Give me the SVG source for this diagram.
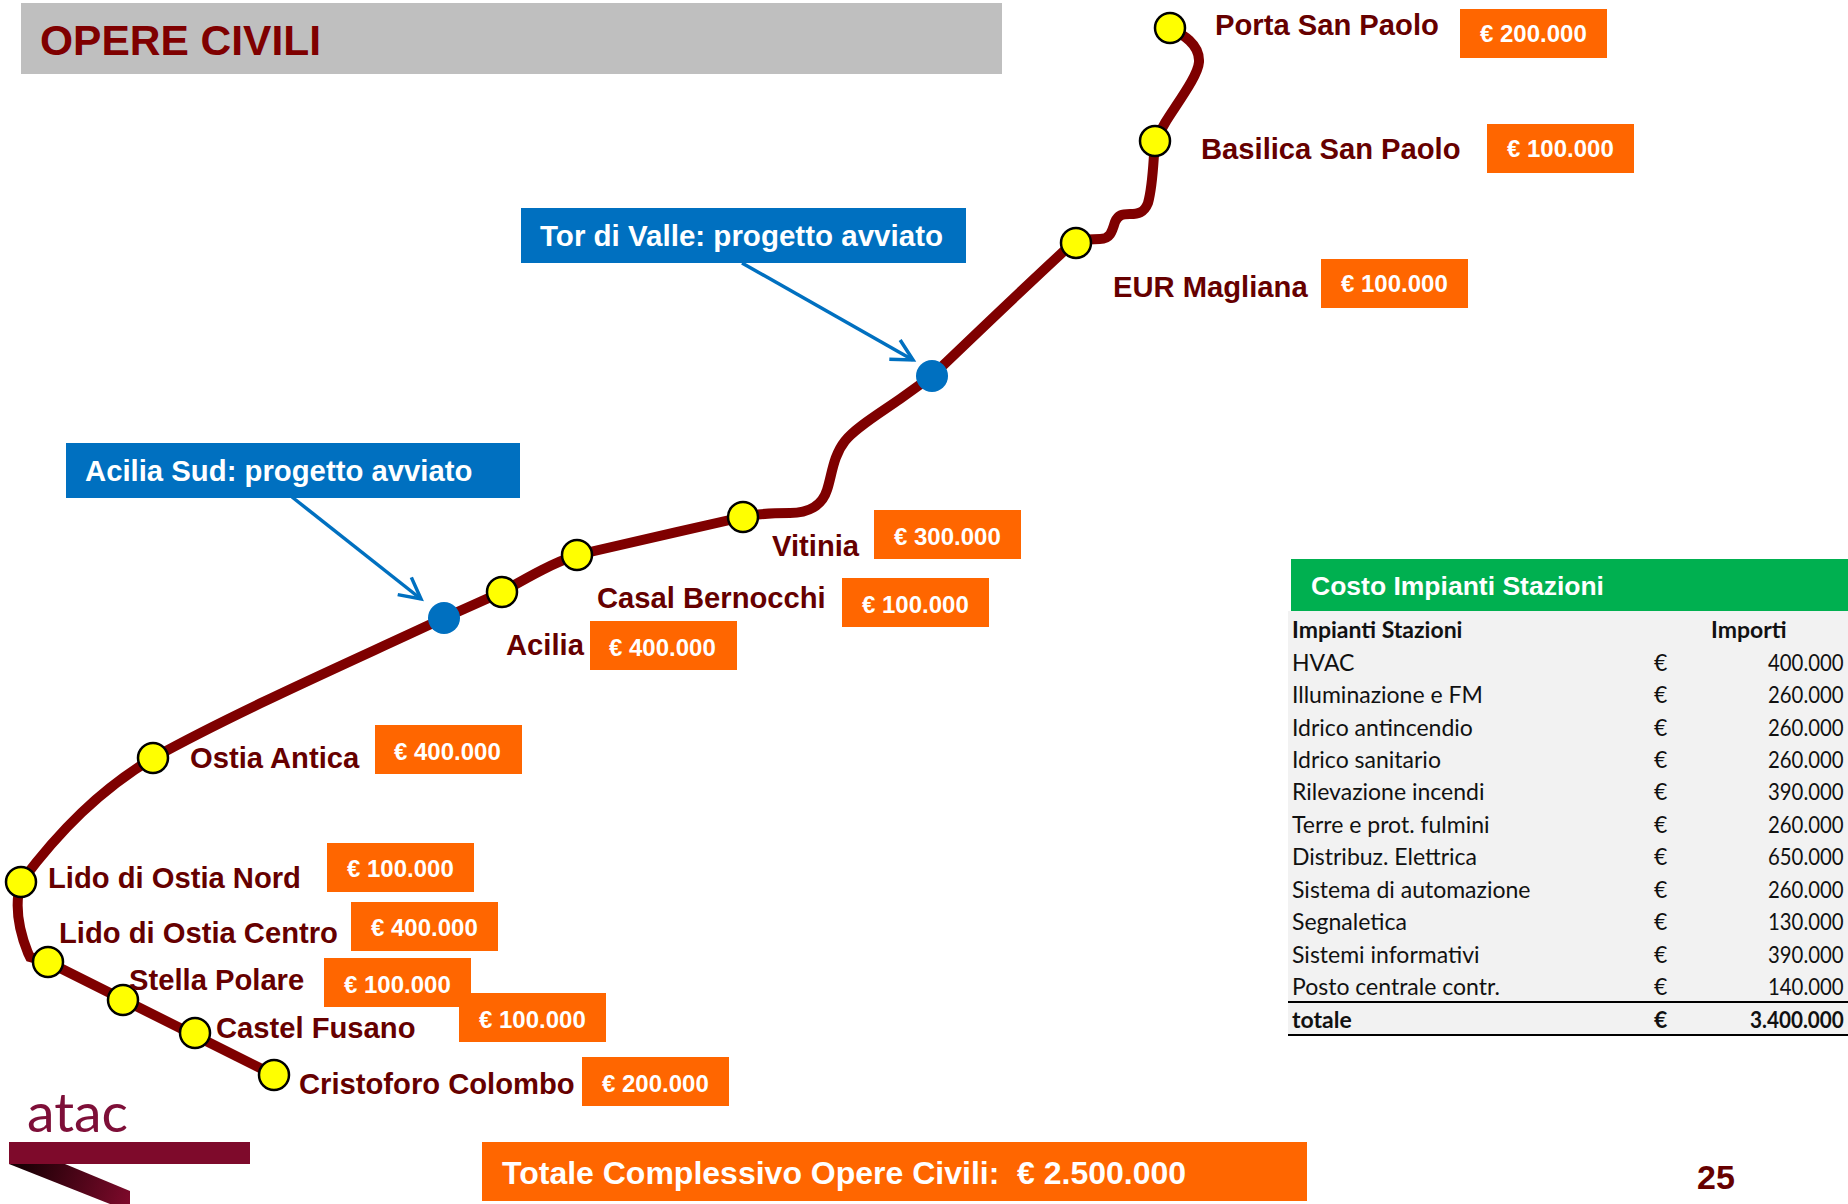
<svg xmlns="http://www.w3.org/2000/svg" width="1848" height="1204" viewBox="0 0 1848 1204">
<style>
text{font-family:"Liberation Sans",Arial,sans-serif;font-weight:bold}
.st{fill:#ffff00;stroke:#000;stroke-width:2.5}
.bl{fill:#0070c0}
.lb{font-size:29.2px;fill:#660000}
.or{fill:#ff6600}
.am{font-size:24px;fill:#fff}
.hd{font-size:29.3px;fill:#fff}
.t{font-family:Lato,"Open Sans",sans-serif;font-size:23px;font-weight:normal;fill:#111}
.tb{font-family:Lato,"Open Sans",sans-serif;font-size:23px;font-weight:bold;fill:#111}
</style>
<defs>
<marker id="arr" markerUnits="userSpaceOnUse" markerWidth="30" markerHeight="30" refX="25" refY="15" orient="auto" overflow="visible">
<path d="M4,4 L25,15 L4,26" fill="none" stroke="#0070c0" stroke-width="3.5"/>
</marker>
<linearGradient id="rib" x1="9" y1="1164" x2="130" y2="1204" gradientUnits="userSpaceOnUse">
<stop offset="0.1" stop-color="#1a0005"/><stop offset="1" stop-color="#7e0a2b"/>
</linearGradient>
</defs>

<g id="title">
<rect x="21" y="3" width="981" height="71" fill="#bfbfbf"/>
<text x="40" y="55" font-size="42.5" fill="#7f0000">OPERE CIVILI</text>
</g>

<g id="connectors">
<path d="M1170,28 C1182,34 1200,44 1199,62 C1198,76 1178,102 1165,123 L1155,141 C1153,165 1153,185 1148,203 C1144,213 1138,214 1130,214 C1122,214 1118,215 1115,222 C1112,232 1110,239 1100,239 L1076,240 C1030,282 980,330 932,376 L900,399 C880,413 855,428 845,441 C833,456 832,475 827,490 C822,506 808,513 790,513 C775,513 760,513 743,517 C690,529 620,545 577,555 C550,564 525,579 502,592 L444,618 C350,662 240,710 153,758 C100,790 60,830 21,882 C14,905 18,928 28,953 L30,957 L48,962 L274,1075" fill="none" stroke="#7f0000" stroke-width="10"/>
<path d="M742,263 L913,360" fill="none" stroke="#0070c0" stroke-width="3.5" marker-end="url(#arr)"/>
<path d="M292,497 L421,599" fill="none" stroke="#0070c0" stroke-width="3.5" marker-end="url(#arr)"/>
</g>

<g id="porta-san-paolo"><circle class="st" cx="1170" cy="28" r="15"/><text class="lb" x="1215" y="35">Porta San Paolo</text><rect class="or" x="1460" y="9" width="147" height="49"/><text class="am" x="1480" y="42">€ 200.000</text></g>
<g id="basilica-san-paolo"><circle class="st" cx="1155" cy="141" r="15"/><text class="lb" x="1201" y="159">Basilica San Paolo</text><rect class="or" x="1487" y="124" width="147" height="49"/><text class="am" x="1507" y="157">€ 100.000</text></g>
<g id="eur-magliana"><circle class="st" cx="1076" cy="243" r="15"/><text class="lb" x="1113" y="297">EUR Magliana</text><rect class="or" x="1321" y="259" width="147" height="49"/><text class="am" x="1341" y="292">€ 100.000</text></g>
<g id="tor-di-valle"><circle class="bl" cx="932" cy="376" r="16"/><rect class="bl" x="521" y="208" width="445" height="55"/><text class="hd" x="540" y="246" textLength="403" lengthAdjust="spacingAndGlyphs">Tor di Valle: progetto avviato</text></g>
<g id="vitinia"><circle class="st" cx="743" cy="517" r="15"/><text class="lb" x="772" y="556">Vitinia</text><rect class="or" x="874" y="510" width="147" height="49"/><text class="am" x="894" y="545">€ 300.000</text></g>
<g id="casal-bernocchi"><circle class="st" cx="577" cy="555" r="15"/><text class="lb" x="597" y="608">Casal Bernocchi</text><rect class="or" x="842" y="578" width="147" height="49"/><text class="am" x="862" y="613">€ 100.000</text></g>
<g id="acilia"><circle class="st" cx="502" cy="592" r="15"/><text class="lb" x="506" y="655">Acilia</text><rect class="or" x="590" y="621" width="147" height="49"/><text class="am" x="609" y="656">€ 400.000</text></g>
<g id="acilia-sud"><circle class="bl" cx="444" cy="618" r="16"/><rect class="bl" x="66" y="443" width="454" height="55"/><text class="hd" x="85" y="481">Acilia Sud: progetto avviato</text></g>
<g id="ostia-antica"><circle class="st" cx="153" cy="758" r="15"/><text class="lb" x="190" y="768">Ostia Antica</text><rect class="or" x="375" y="725" width="147" height="49"/><text class="am" x="394" y="760">€ 400.000</text></g>
<g id="lido-nord"><circle class="st" cx="21" cy="882" r="15"/><text class="lb" x="48" y="888">Lido di Ostia Nord</text><rect class="or" x="327" y="843" width="147" height="49"/><text class="am" x="347" y="877">€ 100.000</text></g>
<g id="lido-centro"><circle class="st" cx="48" cy="962" r="15"/><text class="lb" x="59" y="943">Lido di Ostia Centro</text><rect class="or" x="351" y="902" width="147" height="49"/><text class="am" x="371" y="936">€ 400.000</text></g>
<g id="stella-polare"><circle class="st" cx="123" cy="1000" r="15"/><text class="lb" x="129" y="990">Stella Polare</text><rect class="or" x="324" y="958" width="147" height="49"/><text class="am" x="344" y="993">€ 100.000</text></g>
<g id="castel-fusano"><circle class="st" cx="195" cy="1033" r="15"/><text class="lb" x="216" y="1038">Castel Fusano</text><rect class="or" x="459" y="993" width="147" height="49"/><text class="am" x="479" y="1028">€ 100.000</text></g>
<g id="cristoforo-colombo"><circle class="st" cx="274" cy="1075" r="15"/><text class="lb" x="299" y="1094">Cristoforo Colombo</text><rect class="or" x="582" y="1057" width="147" height="49"/><text class="am" x="602" y="1092">€ 200.000</text></g>

<g id="table">
<rect x="1288" y="611" width="560" height="423" fill="#f2f2f2"/>
<rect x="1291" y="559" width="557" height="52" fill="#00b050"/>
<text x="1311" y="595" font-size="26.5" fill="#fff">Costo Impianti Stazioni</text>
<text class="tb" x="1292" y="638">Impianti Stazioni</text><text class="tb" x="1711" y="638">Importi</text>
<text class="t" x="1292" y="671">HVAC</text><text class="t" x="1654" y="671">€</text><text class="t" transform="translate(1768,671) scale(.885,1)">400.000</text>
<text class="t" x="1292" y="703">Illuminazione e FM</text><text class="t" x="1654" y="703">€</text><text class="t" transform="translate(1768,703) scale(.885,1)">260.000</text>
<text class="t" x="1292" y="736">Idrico antincendio</text><text class="t" x="1654" y="736">€</text><text class="t" transform="translate(1768,736) scale(.885,1)">260.000</text>
<text class="t" x="1292" y="768">Idrico sanitario</text><text class="t" x="1654" y="768">€</text><text class="t" transform="translate(1768,768) scale(.885,1)">260.000</text>
<text class="t" x="1292" y="800">Rilevazione incendi</text><text class="t" x="1654" y="800">€</text><text class="t" transform="translate(1768,800) scale(.885,1)">390.000</text>
<text class="t" x="1292" y="833">Terre e prot. fulmini</text><text class="t" x="1654" y="833">€</text><text class="t" transform="translate(1768,833) scale(.885,1)">260.000</text>
<text class="t" x="1292" y="865">Distribuz. Elettrica</text><text class="t" x="1654" y="865">€</text><text class="t" transform="translate(1768,865) scale(.885,1)">650.000</text>
<text class="t" x="1292" y="898">Sistema di automazione</text><text class="t" x="1654" y="898">€</text><text class="t" transform="translate(1768,898) scale(.885,1)">260.000</text>
<text class="t" x="1292" y="930">Segnaletica</text><text class="t" x="1654" y="930">€</text><text class="t" transform="translate(1768,930) scale(.885,1)">130.000</text>
<text class="t" x="1292" y="963">Sistemi informativi</text><text class="t" x="1654" y="963">€</text><text class="t" transform="translate(1768,963) scale(.885,1)">390.000</text>
<text class="t" x="1292" y="995">Posto centrale contr.</text><text class="t" x="1654" y="995">€</text><text class="t" transform="translate(1768,995) scale(.885,1)">140.000</text>
<rect x="1288" y="1001" width="560" height="2" fill="#000"/>
<text class="tb" x="1292" y="1028">totale</text><text class="tb" x="1654" y="1028">€</text><text class="tb" transform="translate(1750,1028) scale(.9,1)">3.400.000</text>
<rect x="1288" y="1034" width="560" height="2" fill="#000"/>
</g>

<g id="logo">
<text x="27" y="1132" font-size="54" textLength="101" lengthAdjust="spacingAndGlyphs" style="font-family:Lato,sans-serif;font-weight:normal" fill="#7e0f38">atac</text>
<rect x="9" y="1142" width="241" height="22" fill="#7e0a2b"/>
<polygon points="9,1164 65,1164 130,1191 130,1204 110,1204" fill="url(#rib)"/>
</g>

<g id="totale">
<rect class="or" x="482" y="1142" width="825" height="59"/>
<text x="502" y="1184" font-size="32" fill="#fff" style="white-space:pre">Totale Complessivo Opere Civili:  € 2.500.000</text>
</g>
<text id="page" x="1697" y="1189" font-size="34" fill="#660000">25</text>
</svg>
